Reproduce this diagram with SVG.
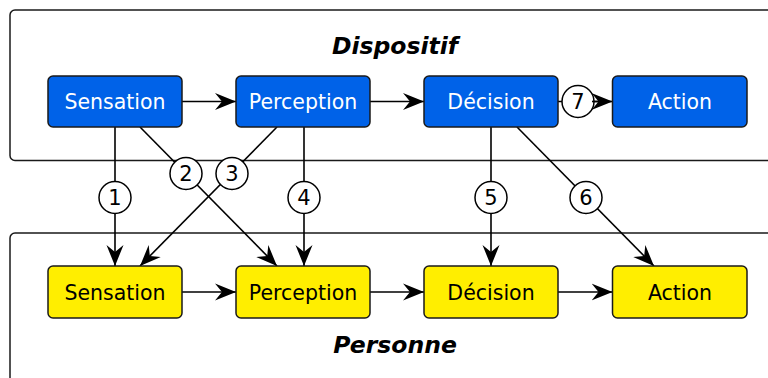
<svg xmlns="http://www.w3.org/2000/svg" width="768" height="378" viewBox="0 0 768 378">
<style>
.cont{fill:#fff;stroke:#1a1a1a;stroke-width:1.5}
.title{font-family:"DejaVu Sans",sans-serif;font-weight:bold;font-style:italic;font-size:23.5px;text-anchor:middle;fill:#000}
.blue rect{fill:#0062e8;stroke:#1a1a1a;stroke-width:1.5}
.blue text{fill:#fff}
.yel rect{fill:#ffee00;stroke:#1a1a1a;stroke-width:1.5}
.yel text{fill:#000}
.lbl{font-family:"DejaVu Sans",sans-serif;font-size:20.5px;text-anchor:middle}
.edge{fill:none;stroke:#000;stroke-width:1.6;marker-end:url(#ah)}
.plain{fill:none;stroke:#000;stroke-width:1.6}
.num circle{fill:#fff;stroke:#000;stroke-width:1.5}
.num text{font-family:"DejaVu Sans",sans-serif;font-size:21px;text-anchor:middle;fill:#000}
</style>
<defs>
<marker id="ah" viewBox="-21 -9 21 18" refX="0" refY="0" markerWidth="21" markerHeight="18" orient="auto" markerUnits="userSpaceOnUse">
<path d="M0,0 L-21,-8.5 L-14,0 L-21,8.5 Z" fill="#000"/>
</marker>
</defs>
<rect width="768" height="378" fill="#fff"/>
<g id="dispositif">
<rect class="cont" x="10" y="10" width="800" height="150.5" rx="5"/>
<text class="title" x="395" y="54">Dispositif</text>
</g>
<g id="personne">
<rect class="cont" x="10" y="233" width="800" height="200" rx="5"/>
<text class="title" x="395" y="353">Personne</text>
</g>
<g id="connectors">
<path class="edge" d="M182,101.5 L236,101.5"/>
<path class="edge" d="M370,101.5 L424,101.5"/>
<path class="plain" d="M558,101.5 L600,101.5"/>
<path class="edge" d="M182,292 L236,292"/>
<path class="edge" d="M370,292 L424,292"/>
<path class="edge" d="M558,292 L612.5,292"/>
<path class="edge" d="M115,127 L115,266"/>
<path class="edge" d="M140,127 L277,266"/>
<path class="edge" d="M277,127 L140,266"/>
<path class="edge" d="M304,127 L304,266"/>
<path class="edge" d="M491,127 L491,266"/>
<path class="edge" d="M517,127 L654,266"/>
</g>
<g id="labels">
<g class="num"><circle cx="115" cy="197.5" r="16"/><text x="115" y="205">1</text></g>
<g class="num"><circle cx="186" cy="173.5" r="16"/><text x="186" y="181">2</text></g>
<g class="num"><circle cx="232" cy="173.5" r="16"/><text x="232" y="181">3</text></g>
<g class="num"><circle cx="304" cy="197.5" r="16"/><text x="304" y="205">4</text></g>
<g class="num"><circle cx="491" cy="197.5" r="16"/><text x="491" y="205">5</text></g>
<g class="num"><circle cx="586" cy="197.5" r="16"/><text x="586" y="205">6</text></g>
<g class="num"><circle cx="578" cy="101.5" r="16"/><text x="578" y="109">7</text></g>
<path class="edge" d="M592,101.5 L612.5,101.5"/>
</g>
<g id="d-sensation" class="blue"><rect x="48" y="76" width="134" height="51" rx="5"/><text class="lbl" x="115" y="109">Sensation</text></g>
<g id="d-perception" class="blue"><rect x="236" y="76" width="134" height="51" rx="5"/><text class="lbl" x="303" y="109">Perception</text></g>
<g id="d-decision" class="blue"><rect x="424" y="76" width="134" height="51" rx="5"/><text class="lbl" x="491" y="109">Décision</text></g>
<g id="d-action" class="blue"><rect x="612.5" y="76" width="134.5" height="51" rx="5"/><text class="lbl" x="680" y="109">Action</text></g>
<g id="p-sensation" class="yel"><rect x="48" y="266" width="134" height="52" rx="5"/><text class="lbl" x="115" y="299.5">Sensation</text></g>
<g id="p-perception" class="yel"><rect x="236" y="266" width="134" height="52" rx="5"/><text class="lbl" x="303" y="299.5">Perception</text></g>
<g id="p-decision" class="yel"><rect x="424" y="266" width="134" height="52" rx="5"/><text class="lbl" x="491" y="299.5">Décision</text></g>
<g id="p-action" class="yel"><rect x="612.5" y="266" width="134.5" height="52" rx="5"/><text class="lbl" x="680" y="299.5">Action</text></g>
</svg>
